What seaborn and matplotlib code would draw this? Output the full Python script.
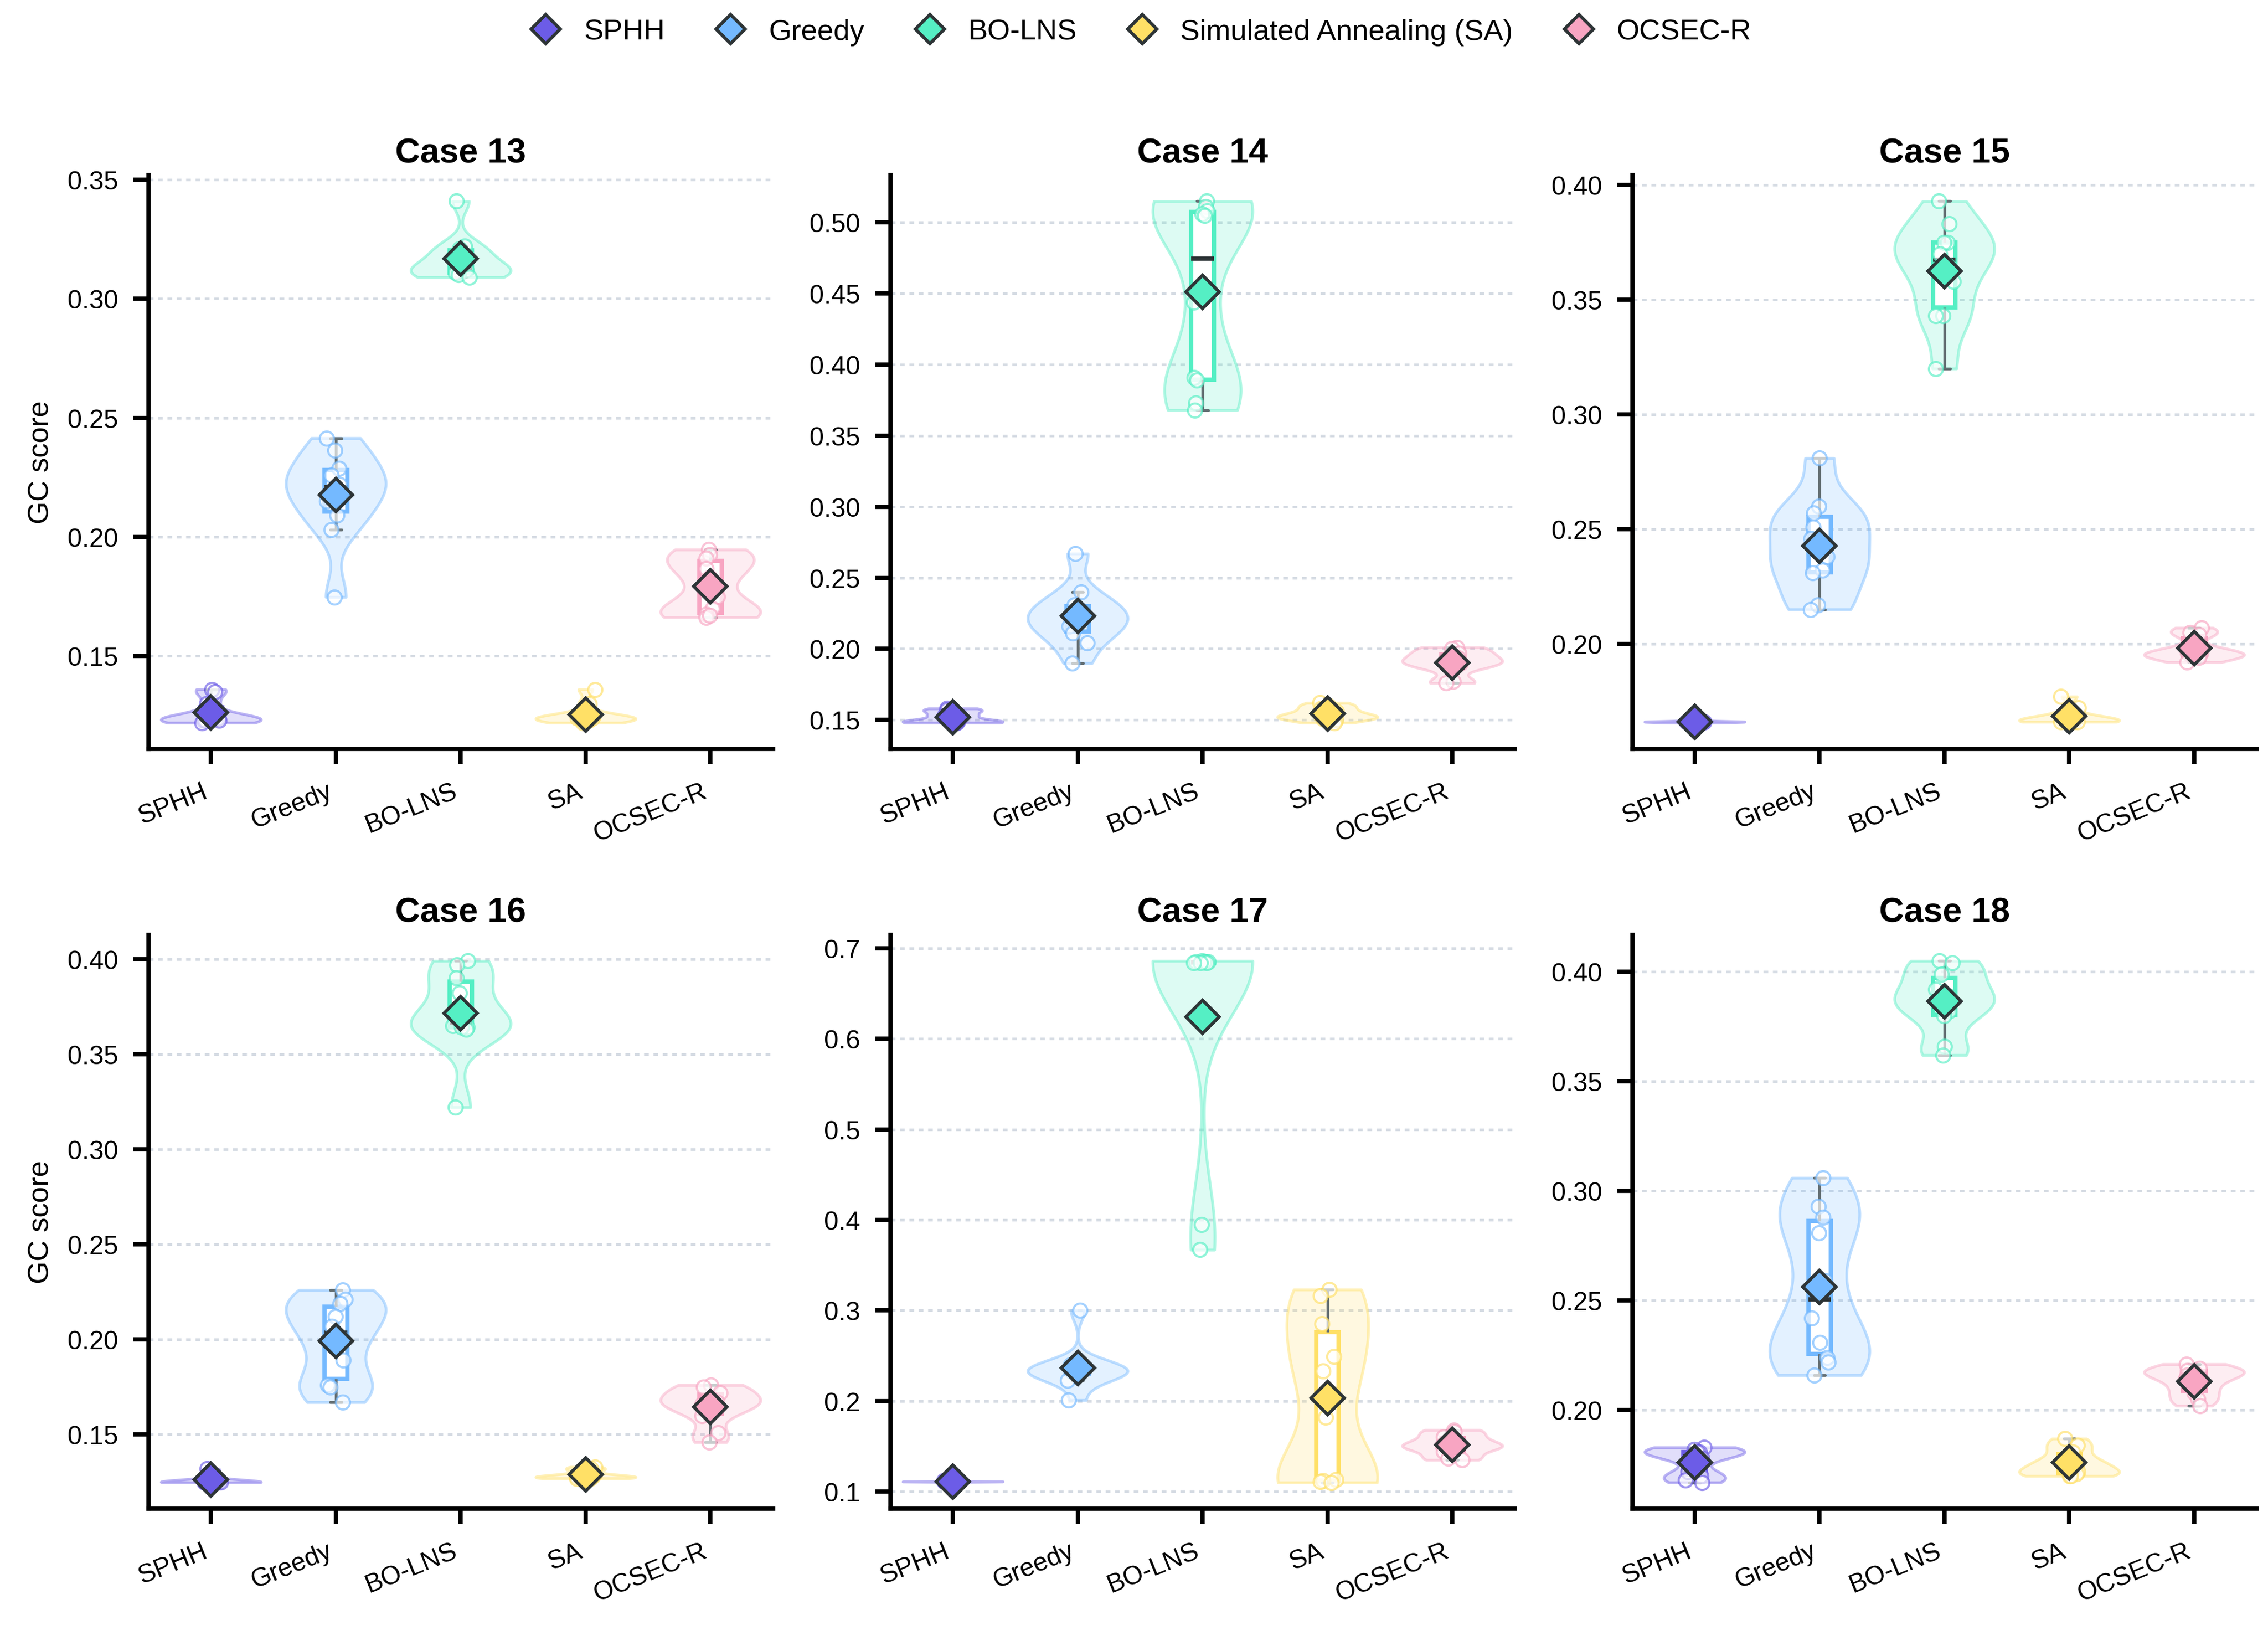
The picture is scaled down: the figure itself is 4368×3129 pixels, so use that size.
import numpy as np
import pandas as pd
import matplotlib
matplotlib.use("Agg")
import matplotlib.pyplot as plt
from matplotlib.lines import Line2D
from matplotlib.ticker import MaxNLocator
import seaborn as sns

# ---------------- data ----------------
methods = ["SPHH", "Greedy", "BO-LNS", "SA", "OCSEC-R"]
legend_labels = ["SPHH", "Greedy", "BO-LNS", "Simulated Annealing (SA)", "OCSEC-R"]
colors = ["#6c5ce7", "#74b9ff", "#55efc4", "#ffe066", "#f8a5c2"]
case_titles = ["Case 13", "Case 14", "Case 15", "Case 16", "Case 17", "Case 18"]

case13 = {
    "SPHH": [0.136, 0.135, 0.130, 0.124, 0.124, 0.123, 0.123, 0.123, 0.122, 0.124],
    "Greedy": [0.2415, 0.2364, 0.2288, 0.226, 0.222, 0.220, 0.215, 0.2092, 0.2031, 0.1748],
    "BO-LNS": [0.341, 0.322, 0.321, 0.318, 0.314, 0.312, 0.311, 0.311, 0.310, 0.309],
    "SA": [0.136, 0.130, 0.125, 0.124, 0.124, 0.124, 0.123, 0.123, 0.122, 0.124],
    "OCSEC-R": [0.1947, 0.1925, 0.191, 0.1866, 0.183, 0.175, 0.170, 0.1676, 0.1663, 0.167],
}
case14 = {
    "SPHH": [0.158, 0.157, 0.156, 0.153, 0.153, 0.149, 0.149, 0.149, 0.148, 0.148],
    "Greedy": [0.267, 0.240, 0.231, 0.228, 0.224, 0.219, 0.216, 0.211, 0.204, 0.190],
    "BO-LNS": [0.515, 0.511, 0.508, 0.506, 0.505, 0.444, 0.391, 0.389, 0.373, 0.368],
    "SA": [0.162, 0.160, 0.158, 0.156, 0.154, 0.153, 0.152, 0.151, 0.150, 0.148],
    "OCSEC-R": [0.201, 0.200, 0.197, 0.194, 0.192, 0.190, 0.189, 0.187, 0.177, 0.176],
}
case15 = {
    "SPHH": [0.1665, 0.1663, 0.1662, 0.1661, 0.1660, 0.1660, 0.1659, 0.1658, 0.1657, 0.1656],
    "Greedy": [0.281, 0.260, 0.257, 0.251, 0.246, 0.238, 0.232, 0.231, 0.217, 0.215],
    "BO-LNS": [0.393, 0.383, 0.375, 0.375, 0.370, 0.365, 0.358, 0.343, 0.343, 0.320],
    "SA": [0.177, 0.172, 0.169, 0.168, 0.167, 0.167, 0.166, 0.166, 0.166, 0.166],
    "OCSEC-R": [0.207, 0.205, 0.204, 0.196, 0.198, 0.196, 0.195, 0.195, 0.194, 0.192],
}
case16 = {
    "SPHH": [0.132, 0.130, 0.126, 0.1252, 0.1251, 0.1250, 0.1250, 0.1249, 0.1248, 0.1250],
    "Greedy": [0.226, 0.221, 0.219, 0.212, 0.207, 0.200, 0.189, 0.176, 0.175, 0.167],
    "BO-LNS": [0.399, 0.397, 0.390, 0.382, 0.368, 0.365, 0.364, 0.364, 0.363, 0.322],
    "SA": [0.133, 0.132, 0.131, 0.129, 0.128, 0.128, 0.128, 0.127, 0.127, 0.127],
    "OCSEC-R": [0.176, 0.175, 0.172, 0.169, 0.167, 0.166, 0.164, 0.160, 0.151, 0.146],
}
case17 = {
    "SPHH": [0.112, 0.111, 0.111, 0.111, 0.111, 0.111, 0.111, 0.111, 0.110, 0.110],
    "Greedy": [0.300, 0.240, 0.236, 0.235, 0.234, 0.233, 0.232, 0.230, 0.223, 0.201],
    "BO-LNS": [0.686, 0.685, 0.685, 0.685, 0.685, 0.684, 0.684, 0.684, 0.395, 0.367],
    "SA": [0.323, 0.316, 0.285, 0.249, 0.233, 0.182, 0.113, 0.112, 0.111, 0.110],
    "OCSEC-R": [0.168, 0.166, 0.160, 0.156, 0.151, 0.150, 0.149, 0.144, 0.137, 0.135],
}
case18 = {
    "SPHH": [0.183, 0.182, 0.181, 0.181, 0.180, 0.178, 0.172, 0.170, 0.168, 0.167],
    "Greedy": [0.306, 0.293, 0.288, 0.281, 0.259, 0.242, 0.231, 0.224, 0.222, 0.216],
    "BO-LNS": [0.405, 0.404, 0.399, 0.392, 0.389, 0.387, 0.382, 0.380, 0.366, 0.362],
    "SA": [0.187, 0.184, 0.181, 0.177, 0.176, 0.174, 0.172, 0.171, 0.170, 0.170],
    "OCSEC-R": [0.221, 0.219, 0.218, 0.217, 0.216, 0.214, 0.211, 0.208, 0.205, 0.202],
}
cases = [case13, case14, case15, case16, case17, case18]

# ---------------- style ----------------
sns.set_theme(style="ticks")
plt.rcParams["font.family"] = ["Liberation Sans", "DejaVu Sans"]
plt.rcParams["axes.edgecolor"] = "black"
plt.rcParams["xtick.color"] = "black"
plt.rcParams["ytick.color"] = "black"
plt.rcParams["text.color"] = "black"
plt.rcParams["axes.labelcolor"] = "black"

EDGE = "#2d3436"
WHISK = "#636e72"
pal = dict(zip(methods, colors))

np.random.seed(3)

fig, axes = plt.subplots(2, 3, figsize=(14.56, 10.4333), dpi=300)
fig.subplots_adjust(left=0.0655, right=0.995, top=0.892, bottom=0.0716,
                    wspace=0.188, hspace=0.324)

for i, (ax, title, case) in enumerate(zip(axes.flat, case_titles, cases)):
    df = pd.DataFrame([(m, v) for m in methods for v in case[m]],
                      columns=["method", "score"])
    common = dict(data=df, x="method", y="score", hue="method", order=methods,
                  hue_order=methods, palette=pal, legend=False, ax=ax)

    # violins
    c0 = len(ax.collections)
    sns.violinplot(**common, cut=0, inner=None, density_norm="width", width=0.8,
                   bw_adjust=0.7, linewidth=1.2, saturation=1)
    for coll in ax.collections[c0:]:
        fc = coll.get_facecolor()[0]
        coll.set_facecolor((fc[0], fc[1], fc[2], 0.2))
        coll.set_edgecolor((fc[0], fc[1], fc[2], 0.45))
        coll.set_linewidth(1.3)
        coll.set_zorder(1)

    # boxes
    p0 = len(ax.patches)
    sns.boxplot(**common, width=0.18, showfliers=False, linewidth=2.0, saturation=1,
                medianprops=dict(color=EDGE, linewidth=2.0),
                whiskerprops=dict(color=WHISK, linewidth=1.3),
                capprops=dict(color=WHISK, linewidth=1.3))
    for p in ax.patches[p0:]:
        fc = p.get_facecolor()
        p.set_edgecolor((fc[0], fc[1], fc[2], 1.0))
        p.set_facecolor("white")
        p.set_linewidth(2.0)

    # points
    c1 = len(ax.collections)
    sns.stripplot(**common, jitter=0.08, size=6.5, linewidth=1.0, zorder=3)
    for coll in ax.collections[c1:]:
        fc = coll.get_facecolor()[0]
        coll.set_facecolor("white")
        coll.set_edgecolor((fc[0], fc[1], fc[2]))
        coll.set_linewidth(1.0)
        coll.set_alpha(0.65)
        coll.set_zorder(3)

    # means
    l0 = len(ax.lines)
    sns.pointplot(**common, estimator="mean", errorbar=None, markers="D",
                  linestyle="none", markersize=11, markeredgewidth=1.5)
    for ln in ax.lines[l0:]:
        ln.set_markeredgecolor(EDGE)
        ln.set_markeredgewidth(1.5)
        ln.set_markersize(11)
        ln.set_zorder(6)

    ax.set_title(title, fontsize=16, fontweight="bold", pad=6)
    ax.set_xlabel("")
    ax.set_ylabel("GC score" if i % 3 == 0 else "", fontsize=13.5, labelpad=6)
    ax.yaxis.set_major_locator(MaxNLocator(nbins=9, steps=[1, 5, 10]))
    ax.grid(axis="y", linestyle=(0, (1.8, 1.8)), linewidth=1.2, color="#d5dbe3")
    ax.grid(axis="x", visible=False)
    ax.set_axisbelow(True)
    sns.despine(ax=ax)
    for s in ["left", "bottom"]:
        ax.spines[s].set_linewidth(2.0)
        ax.spines[s].set_color("black")
    ax.tick_params(axis="both", length=7, width=2.0, labelsize=12, color="black", pad=7)
    ax.set_xticks(range(len(methods)))
    ax.set_xticklabels(methods, rotation=22, ha="right")

handles = [Line2D([0], [0], marker="D", linestyle="none", markerfacecolor=c,
                  markeredgecolor=EDGE, markeredgewidth=1.5, markersize=9.5)
           for c in colors]
fig.legend(handles, legend_labels, loc="center", bbox_to_anchor=(0.5, 0.98),
           ncol=5, frameon=False, fontsize=13.5, handlelength=2.0,
           handletextpad=0.3, columnspacing=1.25)

fig.savefig("out.png", dpi=300)
